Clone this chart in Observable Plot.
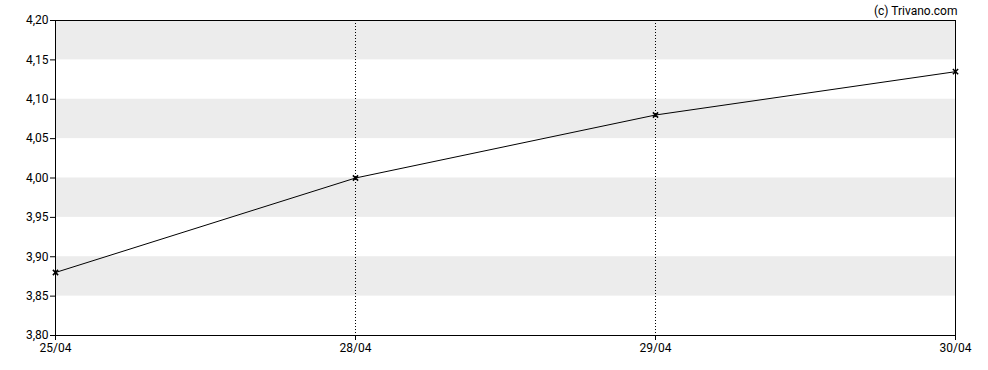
<!DOCTYPE html>
<html>
<head>
<meta charset="utf-8">
<script src="https://cdn.jsdelivr.net/npm/d3@7"></script>
<script src="https://cdn.jsdelivr.net/npm/@observablehq/plot@0.6"></script>
<style>
  body { margin: 0; background: #fff; }
  svg { font-family: Roboto, "Liberation Sans", sans-serif; }
</style>
</head>
<body>
<div id="chart"></div>
<script>
const dates = ["25/04", "28/04", "29/04", "30/04"];
const prices = [3.88, 4.00, 4.08, 4.135];
const yTicks = [3.80, 3.85, 3.90, 3.95, 4.00, 4.05, 4.10, 4.15, 4.20];
const bandStarts = [3.85, 3.95, 4.05, 4.15];
const bandWidth = 0.05;
const innerDates = ["28/04", "29/04"];
const credit = "(c) Trivano.com";

const data = dates.map((d, i) => ({date: d, price: prices[i]}));
const bands = bandStarts.map(b => ({y1: b, y2: b + bandWidth}));

const fmt = v => v.toFixed(2).replace(".", ",");

const chart = Plot.plot({
  width: 988,
  height: 370,
  marginLeft: 55,
  marginRight: 33,
  marginTop: 20,
  marginBottom: 35,
  style: {fontSize: "12px", fontFamily: "Roboto, 'Liberation Sans', sans-serif", color: "#000", background: "#fff"},
  x: {type: "point", domain: dates, padding: 0},
  y: {domain: [3.80, 4.20]},
  marks: [
    Plot.rectY(bands, {y1: "y1", y2: "y2", fill: "#ececec", x1: () => dates[0], x2: () => dates[dates.length - 1]}),
    Plot.ruleX(innerDates, {stroke: "#000", strokeDasharray: "1,2", strokeWidth: 1}),
    Plot.frame({stroke: "#000", strokeWidth: 1}),
    Plot.axisY({ticks: yTicks, tickFormat: fmt, tickSize: 5, tickPadding: 2, label: null}),
    Plot.axisX({tickSize: 5, tickPadding: 3, label: null}),
    Plot.line(data, {x: "date", y: "price", stroke: "#000", strokeWidth: 1}),
    Plot.dot(data, {x: "date", y: "price", symbol: "times", r: 2.5, stroke: "#000", strokeWidth: 1.5}),
    Plot.text([credit], {text: d => d, frameAnchor: "top-right", textAnchor: "end", lineAnchor: "bottom", dy: -6, dx: 2, fontSize: 12})
  ]
});
document.getElementById("chart").appendChild(chart);
</script>
</body>
</html>
